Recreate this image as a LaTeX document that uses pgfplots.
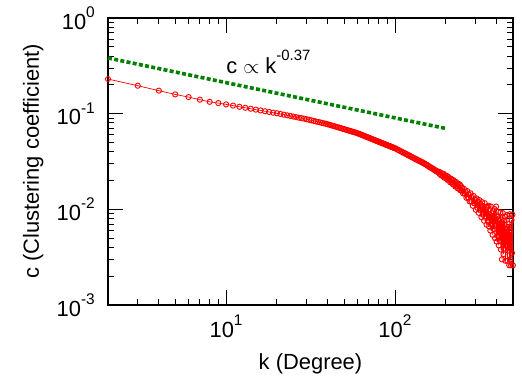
\documentclass[border=0pt]{standalone}
\usepackage{fontspec}
\setmainfont{Liberation Sans}
\usepackage{pgfplots}
\pgfplotsset{compat=1.18}
\usepackage{pgfplotstable}
\newcommand{\supt}[1]{\raisebox{11.5bp}{\fontsize{15.5}{15.5}\selectfont #1}}
\definecolor{dgreen}{RGB}{0,128,0}
\pgfplotstableread{
k c
2 0.230
3 0.196
4 0.174
5 0.159
6 0.149
7 0.140
8 0.133
9 0.129
10 0.125
11 0.1214
12 0.1181
13 0.1152
14 0.1126
15 0.1102
16 0.1081
17 0.1060
18 0.1042
19 0.1024
20 0.1010
21 0.0993
22 0.0976
23 0.0961
24 0.0947
25 0.0933
26 0.0920
27 0.0908
28 0.0897
29 0.0886
30 0.0875
31 0.0863
32 0.0852
33 0.0841
34 0.0830
35 0.0820
36 0.0811
37 0.0801
38 0.0792
39 0.0784
40 0.0775
41 0.0765
42 0.0755
43 0.0746
44 0.0737
45 0.0728
46 0.0720
47 0.0712
48 0.0704
49 0.0696
50 0.0689
51 0.0681
52 0.0674
53 0.0668
54 0.0661
55 0.0655
56 0.0648
57 0.0642
58 0.0637
59 0.0631
60 0.0625
61 0.0618
62 0.0611
63 0.0604
64 0.0597
65 0.0591
66 0.0584
67 0.0578
68 0.0572
69 0.0566
70 0.0560
71 0.0555
72 0.0549
73 0.0544
74 0.0539
75 0.0533
76 0.0528
77 0.0524
78 0.0519
79 0.0514
80 0.0510
81 0.0505
82 0.0501
83 0.0496
84 0.0492
85 0.0488
86 0.0484
87 0.0480
88 0.0476
89 0.0472
90 0.0469
91 0.0465
92 0.0461
93 0.0458
94 0.0454
95 0.0451
96 0.0448
97 0.0444
98 0.0441
99 0.0438
100 0.0435
102 0.0429
104 0.0418
106 0.0414
108 0.0403
110 0.0401
112 0.0390
114 0.0388
116 0.0378
118 0.0376
120 0.0366
122 0.0365
124 0.0355
126 0.0354
128 0.0345
130 0.0344
132 0.0335
134 0.0335
136 0.0326
138 0.0326
140 0.0318
142 0.0318
144 0.0310
146 0.0310
148 0.0302
150 0.0302
152 0.0294
154 0.0293
156 0.0285
158 0.0285
160 0.0277
162 0.0277
164 0.0270
166 0.0270
168 0.0263
170 0.0263
172 0.0256
174 0.0256
176 0.0249
178 0.0250
180 0.0245
182 0.0247
184 0.0234
186 0.0243
188 0.0226
190 0.0236
192 0.0223
194 0.0235
196 0.0214
198 0.0227
200 0.0214
202 0.0224
204 0.0204
206 0.0220
208 0.0201
210 0.0211
212 0.0192
214 0.0210
216 0.0191
218 0.0203
220 0.0183
222 0.0202
224 0.0181
226 0.0193
228 0.0173
230 0.0193
232 0.0174
234 0.0187
236 0.0165
238 0.0184
240 0.0165
242 0.0182
244 0.0158
246 0.0175
248 0.0157
250 0.0167
253 0.0147
256 0.0164
259 0.0145
262 0.0152
265 0.0132
268 0.0155
271 0.0133
274 0.0143
277 0.0121
280 0.0147
283 0.0121
286 0.0135
289 0.0109
292 0.0138
295 0.0116
298 0.0127
301 0.0099
304 0.0130
307 0.0104
310 0.0121
313 0.0092
316 0.0125
319 0.0099
322 0.0110
325 0.0083
328 0.0119
331 0.0088
334 0.0108
337 0.0076
340 0.0116
343 0.0084
346 0.0104
349 0.0069
352 0.0106
355 0.0076
358 0.0109
361 0.0066
364 0.0089
367 0.0060
370 0.0107
373 0.0070
376 0.0091
379 0.0054
382 0.0095
385 0.0062
388 0.0101
391 0.0050
394 0.0081
397 0.0107
400 0.0046
403 0.0084
406 0.0053
409 0.0094
412 0.0042
415 0.0076
418 0.0047
421 0.0093
424 0.0038
427 0.0078
430 0.0030
433 0.0064
436 0.0091
439 0.0034
442 0.0076
445 0.0039
448 0.0084
451 0.0029
454 0.0062
457 0.0042
460 0.0087
463 0.0029
466 0.0065
469 0.0037
472 0.0070
475 0.0026
478 0.0089
481 0.0030
484 0.0058
487 0.0026
490 0.0077
493 0.0035
496 0.0088
499 0.0026
}\reddata
\begin{document}
\begin{tikzpicture}
\begin{axis}[
  scale only axis, width=405bp, height=287bp,
  xmode=log, ymode=log,
  xmin=2, xmax=500, ymin=1e-3, ymax=1,
  xtick={10,100}, xticklabels={10\supt{1},10\supt{2}},
  ytick={0.001,0.01,0.1,1},
  yticklabels={10\supt{-3},10\supt{-2},10\supt{-1},10\supt{0}},
  minor xtick={3,4,5,6,7,8,9,20,30,40,50,60,70,80,90,200,300,400},
  minor ytick={0.002,0.003,0.004,0.005,0.006,0.007,0.008,0.009,0.02,0.03,0.04,0.05,0.06,0.07,0.08,0.09,0.2,0.3,0.4,0.5,0.6,0.7,0.8,0.9},
  major tick length=15bp, minor tick length=6bp,
  tick style={black, line width=0.9bp},
  axis line style={black, line width=1.2bp},
  tick label style={font=\fontsize{22}{22}\selectfont},
  xticklabel style={inner sep=0pt, anchor=north, yshift=-10bp},
  yticklabel style={inner sep=0pt, anchor=east, xshift=-13bp},
  xlabel={k (Degree)}, ylabel={c (Clustering coefficient)},
  label style={font=\fontsize{22}{22}\selectfont},
  xlabel style={at={(axis description cs:0.5,0)}, anchor=base, yshift=-64bp, inner sep=0pt},
  ylabel style={at={(axis description cs:-0.1704,0.5)}, anchor=base, inner sep=0pt},
  clip mode=individual,
]
\addplot[red, line width=0.7bp, mark=o, mark size=2.6bp, mark options={line width=0.9bp, solid}] table[x=k,y=c]{\reddata};
\addplot[dgreen, line width=3.6bp, dash pattern=on 4bp off 2.3bp] coordinates {(2,0.382) (200,0.070)};
\node[anchor=base west, inner sep=0pt, font=\fontsize{22}{22}\selectfont] at (axis cs:10,0.266) {c $\propto$ k\raisebox{12.5bp}{\fontsize{15}{15}\selectfont -0.37}};
\end{axis}
\pgfresetboundingbox
\path (current axis.south west) +(-108bp,-78bp) (current axis.north east) +(9bp,18bp);
\end{tikzpicture}
\end{document}
